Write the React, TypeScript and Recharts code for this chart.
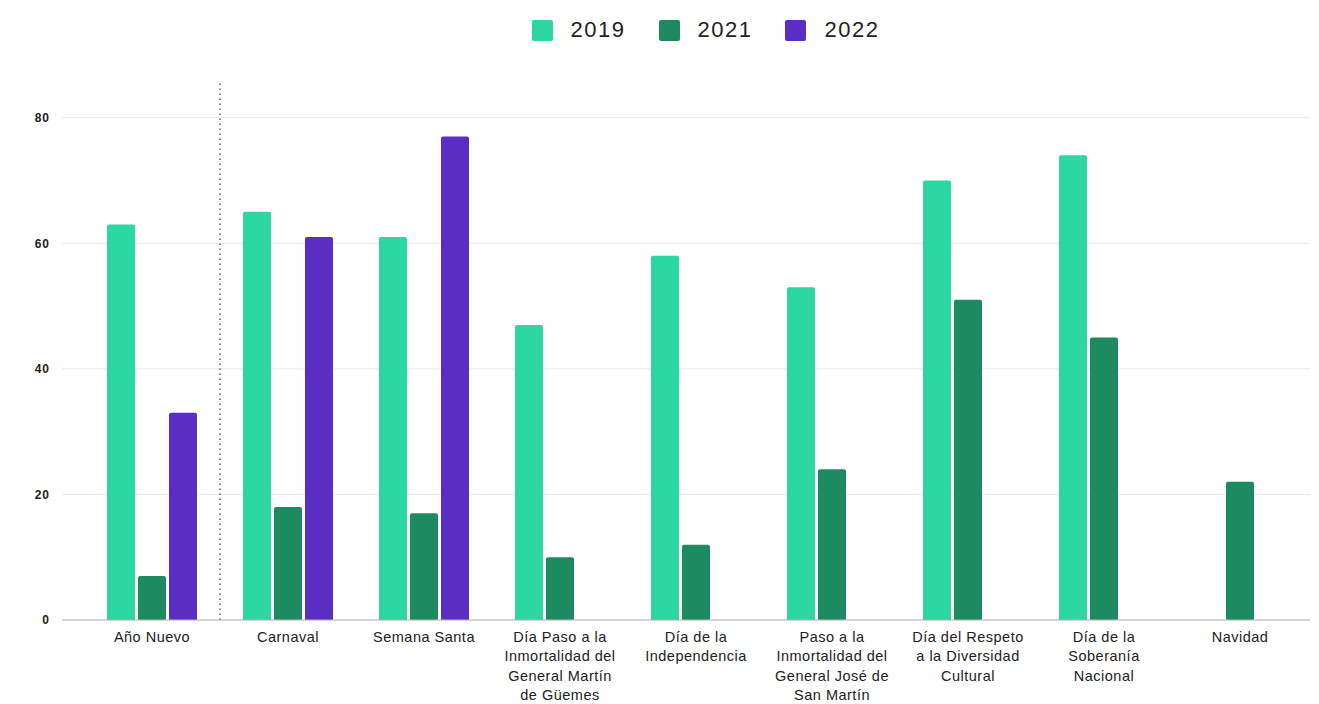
import { Bar, BarChart, CartesianGrid, Legend, ReferenceLine, XAxis, YAxis } from "recharts";

const categories = [
  "Año Nuevo",
  "Carnaval",
  "Semana Santa",
  "Día Paso a la Inmortalidad del General Martín de Güemes",
  "Día de la Independencia",
  "Paso a la Inmortalidad del General José de San Martín",
  "Día del Respeto a la Diversidad Cultural",
  "Día de la Soberanía Nacional",
  "Navidad",
];

// how each category label breaks into lines under the axis
const tickLines = [
  ["Año Nuevo"],
  ["Carnaval"],
  ["Semana Santa"],
  ["Día Paso a la", "Inmortalidad del", "General Martín", "de Güemes"],
  ["Día de la", "Independencia"],
  ["Paso a la", "Inmortalidad del", "General José de", "San Martín"],
  ["Día del Respeto", "a la Diversidad", "Cultural"],
  ["Día de la", "Soberanía", "Nacional"],
  ["Navidad"],
];

const values2019 = [63, 65, 61, 47, 58, 53, 70, 74, null];
const values2021 = [7, 18, 17, 10, 12, 24, 51, 45, 22];
const values2022 = [33, 61, 77, null, null, null, null, null, null];

const yTicks = [0, 20, 40, 60, 80];

const data = categories.map((name, i) => ({
  name,
  y2019: values2019[i],
  y2021: values2021[i],
  y2022: values2022[i],
}));

const COLORS = {
  y2019: "#2bd8a1",
  y2021: "#1e8a62",
  y2022: "#5a2ec2",
};

const FONT = "Liberation Sans, Arial, sans-serif";

function CategoryTick({ x, y, index }: any) {
  const lines = tickLines[index] ?? [];
  return (
    <g transform={`translate(${x},${y})`}>
      {lines.map((line, i) => (
        <text
          key={i}
          x={0}
          y={14 + i * 19.3}
          textAnchor="middle"
          fill="#222"
          fontSize={14.5}
          letterSpacing={0.5}
          fontFamily={FONT}
        >
          {line}
        </text>
      ))}
    </g>
  );
}

function renderLegend() {
  const items = [
    { key: "y2019", label: "2019" },
    { key: "y2021", label: "2021" },
    { key: "y2022", label: "2022" },
  ];
  return (
    <div style={{ display: "flex", justifyContent: "center", gap: 33, fontFamily: FONT, paddingLeft: 92 }}>
      {items.map((it) => (
        <div key={it.key} style={{ display: "flex", alignItems: "center", gap: 18 }}>
          <span
            style={{
              display: "inline-block",
              width: 21,
              height: 21,
              borderRadius: 2,
              background: COLORS[it.key as keyof typeof COLORS],
            }}
          />
          <span style={{ fontSize: 22, color: "#222", letterSpacing: 1.5 }}>{it.label}</span>
        </div>
      ))}
    </div>
  );
}

export default function App() {
  return (
    <div style={{ position: "absolute", left: 0, top: 0, background: "#fff" }}>
      <BarChart
        width={1319}
        height={704}
        data={data}
        margin={{ top: 80, right: 9, bottom: 4, left: 0 }}
        barSize={28}
        barGap={3}
      >
        <CartesianGrid stroke="#e9e9e9" vertical={false} horizontalValues={yTicks} />
        <XAxis
          dataKey="name"
          height={80}
          interval={0}
          tick={<CategoryTick />}
          tickLine={false}
          axisLine={{ stroke: "#b5b5b5" }}
          padding={{ left: 22, right: 2 }}
        />
        <YAxis
          width={62}
          domain={[0, 86]}
          ticks={yTicks}
          tickLine={false}
          axisLine={false}
          tick={{ fill: "#222", fontSize: 12, fontFamily: FONT, fontWeight: 700, letterSpacing: 1 }}
          tickMargin={6}
        />
        <Legend
          verticalAlign="top"
          height={0}
          content={renderLegend}
          wrapperStyle={{ position: "absolute", top: 17, left: 0, width: 1319, height: 0 }}
        />
        <ReferenceLine
          x="Año Nuevo"
          position="end"
          stroke="#333"
          strokeDasharray="1.5 3.5"
          strokeWidth={1.2}
        />
        <Bar dataKey="y2019" name="2019" fill={COLORS.y2019} radius={[2, 2, 0, 0]} isAnimationActive={false} />
        <Bar dataKey="y2021" name="2021" fill={COLORS.y2021} radius={[2, 2, 0, 0]} isAnimationActive={false} />
        <Bar dataKey="y2022" name="2022" fill={COLORS.y2022} radius={[2, 2, 0, 0]} isAnimationActive={false} />
      </BarChart>
    </div>
  );
}
